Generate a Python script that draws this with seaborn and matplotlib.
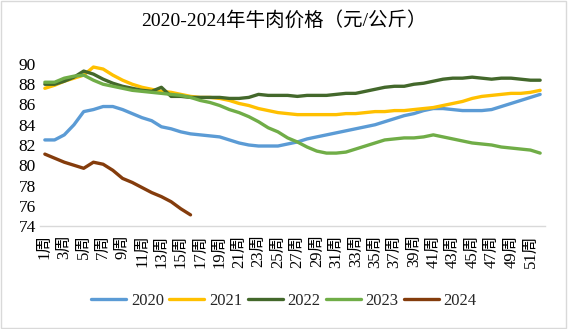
import numpy as np
import pandas as pd
import seaborn as sns
import matplotlib.pyplot as plt
from matplotlib.patches import Rectangle

# Weekly beef price (yuan/kg), one list per year
weeks = list(range(1, 53))
price_2020 = [82.5, 82.5, 83.0, 84.0, 85.3, 85.5, 85.8, 85.8, 85.5, 85.1,
              84.7, 84.4, 83.8, 83.6, 83.3, 83.1, 83.0, 82.9, 82.8, 82.5,
              82.2, 82.0, 81.9, 81.9, 81.9, 82.1, 82.3, 82.6, 82.8, 83.0,
              83.2, 83.4, 83.6, 83.8, 84.0, 84.3, 84.6, 84.9, 85.1, 85.4,
              85.6, 85.6, 85.5, 85.4, 85.4, 85.4, 85.5, 85.8, 86.1, 86.4,
              86.7, 87.0]
price_2021 = [87.6, 87.9, 88.3, 88.6, 88.9, 89.7, 89.5, 88.9, 88.4, 88.0,
              87.7, 87.5, 87.3, 87.2, 87.0, 86.8, 86.7, 86.7, 86.6, 86.4,
              86.1, 85.9, 85.6, 85.4, 85.2, 85.1, 85.0, 85.0, 85.0, 85.0,
              85.0, 85.1, 85.1, 85.2, 85.3, 85.3, 85.4, 85.4, 85.5, 85.6,
              85.7, 85.9, 86.1, 86.3, 86.6, 86.8, 86.9, 87.0, 87.1, 87.1,
              87.2, 87.4]
price_2022 = [88.0, 88.0, 88.3, 88.7, 89.3, 89.0, 88.5, 88.1, 87.8, 87.6,
              87.4, 87.3, 87.7, 86.8, 86.8, 86.7, 86.7, 86.7, 86.7, 86.6,
              86.6, 86.7, 87.0, 86.9, 86.9, 86.9, 86.8, 86.9, 86.9, 86.9,
              87.0, 87.1, 87.1, 87.3, 87.5, 87.7, 87.8, 87.8, 88.0, 88.1,
              88.3, 88.5, 88.6, 88.6, 88.7, 88.6, 88.5, 88.6, 88.6, 88.5,
              88.4, 88.4]
price_2023 = [88.2, 88.2, 88.6, 88.8, 88.9, 88.4, 88.0, 87.8, 87.6, 87.4,
              87.3, 87.2, 87.1, 87.0, 86.9, 86.7, 86.4, 86.2, 85.9, 85.5,
              85.2, 84.8, 84.3, 83.7, 83.3, 82.7, 82.3, 81.8, 81.4, 81.2,
              81.2, 81.3, 81.6, 81.9, 82.2, 82.5, 82.6, 82.7, 82.7, 82.8,
              83.0, 82.8, 82.6, 82.4, 82.2, 82.1, 82.0, 81.8, 81.7, 81.6,
              81.5, 81.2]
price_2024 = [81.1, 80.7, 80.3, 80.0, 79.7, 80.3, 80.1, 79.5, 78.7, 78.3,
              77.8, 77.3, 76.9, 76.4, 75.7, 75.1]
years = ["2020", "2021", "2022", "2023", "2024"]
colors = ["#5B9BD5", "#FFC000", "#43682B", "#70AD47", "#843C0C"]

series = [price_2020, price_2021, price_2022, price_2023, price_2024]
frames = []
for yr, vals in zip(years, series):
    frames.append(pd.DataFrame({"week": weeks[:len(vals)], "price": vals, "year": yr}))
df = pd.concat(frames, ignore_index=True)

sns.set_theme(style="white")
serif_cjk = ["Liberation Serif", "Noto Sans CJK SC"]
plt.rcParams["font.family"] = serif_cjk

fig = plt.figure(figsize=(5.69, 3.29), dpi=100)
ax = fig.add_axes([40 / 569, 1 - 226 / 329, 505 / 569, 162 / 329])

sns.lineplot(data=df, x="week", y="price", hue="year", palette=colors,
             hue_order=years, linewidth=2.4, ax=ax, legend=True, sort=False)

ax.set_xlim(0.5, 52.5)
ax.set_ylim(74, 90)
ax.set_yticks(np.arange(74, 91, 2))
ax.set_yticklabels([str(v) for v in range(74, 91, 2)], fontsize=12.5, color="#000000")
tick_weeks = weeks[::2]
ax.set_xticks(tick_weeks)
ax.set_xticklabels([f"{w}周" for w in tick_weeks], rotation=90, fontsize=12,
                   color="#000000", va="top", ha="center")
ax.tick_params(axis="x", length=0, pad=6)
ax.tick_params(axis="y", length=0, pad=3)
ax.set_xlabel("")
ax.set_ylabel("")
for side in ["top", "right", "left"]:
    ax.spines[side].set_visible(False)
ax.spines["bottom"].set_color("#D9D9D9")
ax.spines["bottom"].set_linewidth(1.0)

handles, labels = ax.get_legend_handles_labels()
ax.legend(handles, labels, loc="center", bbox_to_anchor=(284 / 569, 1 - 301 / 329),
          bbox_transform=fig.transFigure, ncol=5, frameon=False, fontsize=12,
          handlelength=2.1, handletextpad=0.3, columnspacing=0.3)

fig.text(284 / 569, 1 - 20 / 329, "2020-2024年牛肉价格（元/公斤）", ha="center",
         va="center", fontsize=14, color="#000000", family=serif_cjk)

fig.patches.append(Rectangle((0.002, 0.003), 0.993, 0.994, transform=fig.transFigure,
                             fill=False, edgecolor="#D9D9D9", linewidth=1.0))

fig.savefig("out.png", dpi=100, facecolor="white")
